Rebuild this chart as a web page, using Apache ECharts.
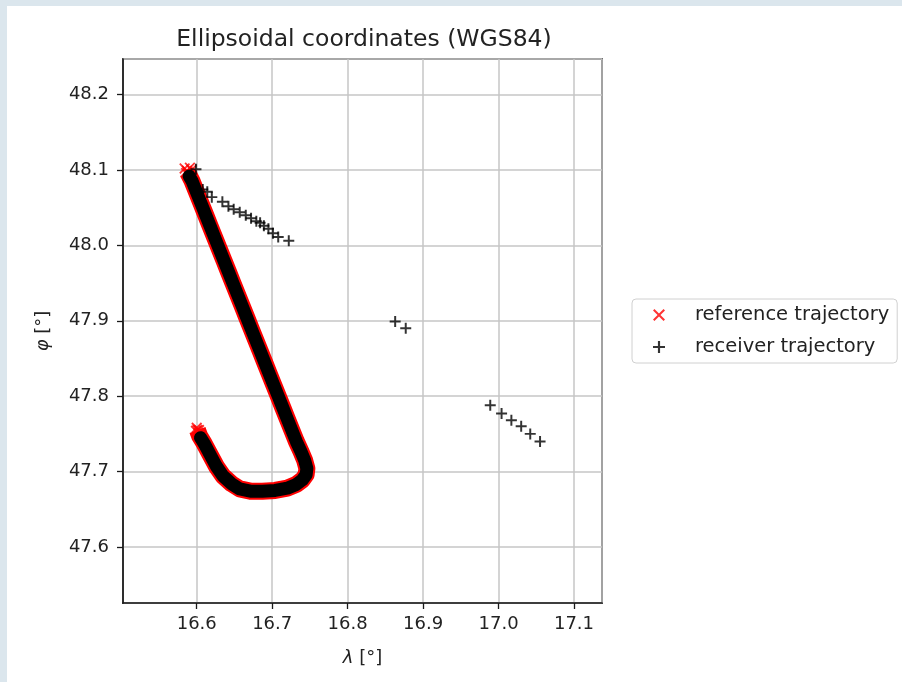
<!DOCTYPE html>
<html>
<head>
<meta charset="utf-8">
<script src="https://cdn.jsdelivr.net/npm/echarts@6/dist/echarts.min.js"></script>
<style>
  html, body { margin: 0; padding: 0; width: 902px; height: 682px; overflow: hidden; background: #dbe6ed; }
  #paper { position: absolute; left: 7px; top: 6px; right: 0; bottom: 0; background: #ffffff; }
  #chart { position: absolute; left: 0; top: 0; width: 902px; height: 682px; }
</style>
</head>
<body>
<div id="paper"></div>
<div id="chart"></div>
<script>
// Reference trajectory (red x) along the route
const refLon = [16.588, 16.594, 16.600, 16.606, 16.612, 16.618, 16.624, 16.630, 16.636, 16.642, 16.648, 16.654, 16.660, 16.666, 16.672, 16.678, 16.684, 16.690, 16.696, 16.702, 16.708, 16.714, 16.720, 16.726, 16.732, 16.738, 16.743, 16.746, 16.745, 16.740, 16.732, 16.720, 16.704, 16.687, 16.671, 16.657, 16.646, 16.635, 16.626, 16.618, 16.610, 16.604, 16.601];
const refLat = [48.097, 48.085, 48.070, 48.055, 48.040, 48.025, 48.010, 47.995, 47.980, 47.965, 47.950, 47.935, 47.920, 47.905, 47.890, 47.875, 47.860, 47.845, 47.830, 47.815, 47.800, 47.785, 47.770, 47.755, 47.740, 47.727, 47.715, 47.704, 47.696, 47.689, 47.683, 47.678, 47.675, 47.674, 47.674, 47.677, 47.684, 47.694, 47.707, 47.722, 47.737, 47.747, 47.755];
// Reference points in the start/end clusters
const refEndLon = [16.584, 16.587, 16.591, 16.589, 16.593, 16.586, 16.600, 16.603, 16.599, 16.602];
const refEndLat = [48.102, 48.099, 48.103, 48.094, 48.100, 48.096, 47.758, 47.755, 47.754, 47.751];

// Receiver trajectory (black +) along the route
const rcvPathLon = [16.590, 16.594, 16.600, 16.606, 16.612, 16.618, 16.624, 16.630, 16.636, 16.642, 16.648, 16.654, 16.660, 16.666, 16.672, 16.678, 16.684, 16.690, 16.696, 16.702, 16.708, 16.714, 16.720, 16.726, 16.732, 16.738, 16.743, 16.746, 16.745, 16.740, 16.732, 16.720, 16.704, 16.687, 16.671, 16.657, 16.646, 16.635, 16.626, 16.618, 16.610, 16.605];
const rcvPathLat = [48.092, 48.085, 48.070, 48.055, 48.040, 48.025, 48.010, 47.995, 47.980, 47.965, 47.950, 47.935, 47.920, 47.905, 47.890, 47.875, 47.860, 47.845, 47.830, 47.815, 47.800, 47.785, 47.770, 47.755, 47.740, 47.727, 47.715, 47.704, 47.696, 47.689, 47.683, 47.678, 47.675, 47.674, 47.674, 47.677, 47.684, 47.694, 47.707, 47.722, 47.737, 47.745];

// Receiver trajectory outliers
const rcvOutLon = [16.599, 16.608, 16.614, 16.620, 16.634, 16.642, 16.649, 16.657, 16.665, 16.672, 16.679, 16.684, 16.689, 16.695, 16.701, 16.708, 16.722, 16.863, 16.877, 16.989, 17.004, 17.017, 17.030, 17.042, 17.055];
const rcvOutLat = [48.101, 48.074, 48.071, 48.064, 48.058, 48.052, 48.048, 48.044, 48.040, 48.036, 48.032, 48.030, 48.026, 48.022, 48.016, 48.011, 48.006, 47.899, 47.890, 47.788, 47.777, 47.768, 47.760, 47.750, 47.740];

const xTickMin = 16.5023, xTickMax = 17.1371;
const yTickMin = 47.5257, yTickMax = 48.2472;

const X_PATH = 'path://M0,1.2L1.2,0L5,3.8L8.8,0L10,1.2L6.2,5L10,8.8L8.8,10L5,6.2L1.2,10L0,8.8L3.8,5Z';
const P_PATH = 'path://M4.1,0H5.9V4.1H10V5.9H5.9V10H4.1V5.9H0V4.1H4.1Z';

const zip = (a, b) => a.map((v, i) => [v, b[i]]);
const refData = zip(refLon, refLat);
const refAll = refData.concat(zip(refEndLon, refEndLat));
const rcvPath = zip(rcvPathLon, rcvPathLat);
const rcvAll = rcvPath.concat(zip(rcvOutLon, rcvOutLat));

const FONT = 'DejaVu Sans';
const fmt = v => {
  const r = Math.round(v * 10) / 10;
  return Math.abs(v - r) < 1e-6 ? r.toFixed(1) : '';
};

const chart = echarts.init(document.getElementById('chart'), null, { renderer: 'canvas' });
chart.setOption({
  backgroundColor: 'transparent',
  animation: false,
  textStyle: { fontFamily: FONT },
  title: {
    text: 'Ellipsoidal coordinates (WGS84)',
    left: 364, top: 28, padding: 0, textAlign: 'center',
    textStyle: { fontFamily: FONT, fontSize: 23.5, fontWeight: 'normal', color: '#222' }
  },
  grid: {
    left: 123, top: 59, width: 479, height: 544,
    show: true, borderColor: '#1a1a1a', borderWidth: 1.7, backgroundColor: 'transparent'
  },
  legend: {
    data: [
      { name: 'reference trajectory', icon: X_PATH },
      { name: 'receiver trajectory', icon: P_PATH }
    ],
    orient: 'vertical',
    left: 632, top: 299,
    padding: [5, 8, 5, 21],
    itemWidth: 12, itemHeight: 12, itemGap: 10,
    backgroundColor: '#fff', borderColor: '#d0d0d0', borderWidth: 1, borderRadius: 4,
    textStyle: { fontFamily: FONT, fontSize: 19.5, color: '#222', lineHeight: 22, padding: [0, 0, 0, 25] }
  },
  xAxis: {
    type: 'value', min: xTickMin, max: xTickMax, minInterval: 0.1, maxInterval: 0.1,
    name: '{i|λ} [°]', nameLocation: 'middle', nameGap: 46,
    nameTextStyle: { fontFamily: FONT, fontSize: 18, color: '#222', rich: { i: { fontStyle: 'italic', fontFamily: FONT, fontSize: 18, color: '#222' } } },
    axisLine: { show: true, lineStyle: { color: '#1a1a1a', width: 1.7 } },
    axisTick: { show: true, length: 6, lineStyle: { color: '#1a1a1a', width: 1.3 } },
    axisLabel: { formatter: fmt, showMinLabel: false, showMaxLabel: false, margin: 12, fontFamily: FONT, fontSize: 18, color: '#222' },
    splitLine: { show: true, lineStyle: { color: '#c6c6c6', width: 1.5 } }
  },
  yAxis: {
    type: 'value', min: yTickMin, max: yTickMax, minInterval: 0.1, maxInterval: 0.1,
    name: '{i|φ} [°]', nameLocation: 'middle', nameGap: 71, nameRotate: 90,
    nameTextStyle: { fontFamily: FONT, fontSize: 18, color: '#222', rich: { i: { fontStyle: 'italic', fontFamily: FONT, fontSize: 18, color: '#222' } } },
    axisLine: { show: true, lineStyle: { color: '#1a1a1a', width: 1.7 } },
    axisTick: { show: true, length: 6, lineStyle: { color: '#1a1a1a', width: 1.3 } },
    axisLabel: { formatter: fmt, showMinLabel: false, showMaxLabel: false, margin: 14, fontFamily: FONT, fontSize: 18, color: '#222' },
    splitLine: { show: true, lineStyle: { color: '#c6c6c6', width: 1.5 } }
  },
  series: [
    {
      name: 'refBand', type: 'line', data: refData, symbol: 'none', silent: true, z: 1,
      lineStyle: { color: '#ff0000', width: 17, cap: 'butt', join: 'round' }
    },
    {
      name: 'reference trajectory', type: 'scatter', data: refAll, z: 2,
      symbol: X_PATH, symbolSize: 11, itemStyle: { color: '#ff0000' }
    },
    {
      name: 'rcvBand', type: 'line', data: rcvPath, symbol: 'none', silent: true, z: 3,
      lineStyle: { color: '#000000', width: 13, cap: 'round', join: 'round' }
    },
    {
      name: 'receiver trajectory', type: 'scatter', data: rcvAll, z: 4,
      symbol: P_PATH, symbolSize: 11, itemStyle: { color: '#000000' }
    }
  ]
});
</script>
</body>
</html>
